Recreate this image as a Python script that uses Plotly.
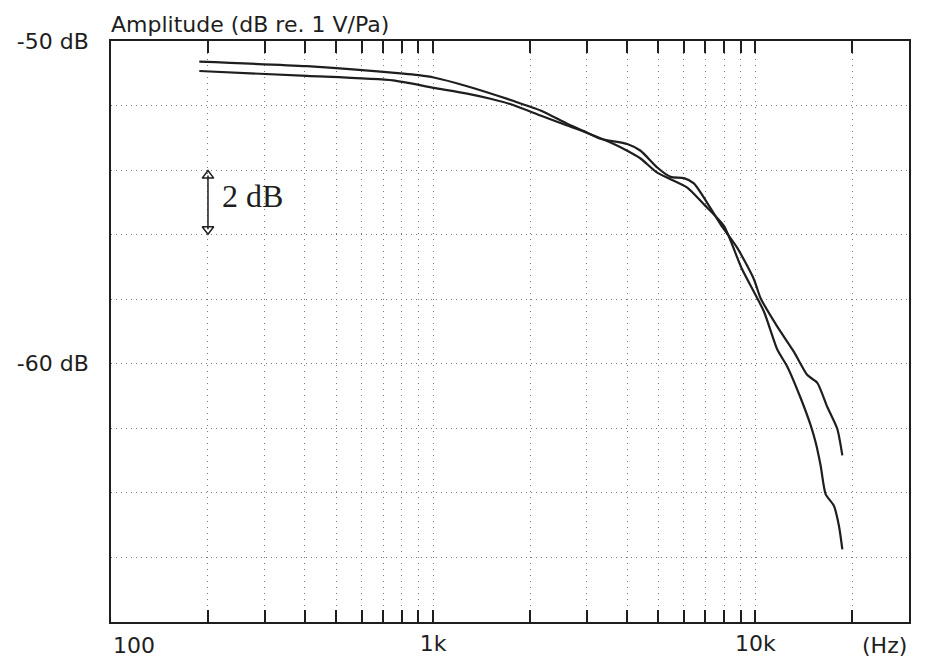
import math
import plotly.graph_objects as go

# ---- data ----
freq_a = [188, 406, 809, 902, 1004, 1275, 1780, 2154, 2607, 2936, 3308, 4004, 4404,
          4962, 5458, 6002, 6448, 6925, 7803, 8793, 9901, 10387, 11703, 13183,
          14506, 15578, 16733, 17973, 18631]
amp_a = [-50.64, -50.78, -51.01, -51.06, -51.13, -51.40, -51.86, -52.15, -52.56, -52.79,
         -53.03, -53.19, -53.40, -53.92, -54.21, -54.25, -54.41, -54.85, -55.68, -56.41,
         -57.38, -57.97, -58.85, -59.63, -60.35, -60.59, -61.34, -62.02, -62.84]

freq_b = [188, 406, 750, 1004, 1275, 1507, 1780, 2154, 2607, 3008, 3638, 4004,
          4404, 4962, 6149, 6925, 7990, 9069, 10634, 11703, 12571, 13826, 14849,
          15391, 15950, 16531, 17540, 18180, 18631]
amp_b = [-50.93, -51.08, -51.22, -51.45, -51.63, -51.79, -51.99, -52.31, -52.62,
         -52.85, -53.19, -53.40, -53.64, -54.08, -54.54, -55.06, -55.73, -57.04, -58.38,
         -59.56, -60.09, -61.06, -61.90, -62.43, -63.15, -64.04, -64.40, -65.02, -65.75]

x_gridvals = [200, 300, 400, 500, 600, 700, 800, 900, 1000,
              2000, 3000, 4000, 5000, 6000, 7000, 8000, 9000, 10000, 20000]
x_gridtext = ["", "", "", "", "", "", "", "", "1k",
              "", "", "", "", "", "", "", "", "10k", ""]
y_gridvals = [-50, -52, -54, -56, -58, -60, -62, -64, -66, -68]
y_gridtext = ["-50 dB", "", "", "", "", "-60 dB", "", "", "", ""]

x_min, x_max = 100, 30000
y_min, y_max = -68, -50

scale_freq = 200
scale_top, scale_bottom = -54, -56
scale_text = "2 dB"
title_text = "Amplitude (dB re. 1 V/Pa)"
unit_text = "(Hz)"
low_label = "100"

LINE = "#1e1e1e"
GRID = "#7a7a7a"
FONT = "DejaVu Sans"

fig = go.Figure()
for f, a in ((freq_a, amp_a), (freq_b, amp_b)):
    fig.add_trace(go.Scatter(x=f, y=a, mode="lines",
                             line=dict(color=LINE, width=2.2, shape="spline", smoothing=0.6),
                             hoverinfo="skip", showlegend=False))

# 2 dB scale arrow
fig.add_trace(go.Scatter(x=[scale_freq, scale_freq], y=[scale_top - 0.17, scale_bottom + 0.17],
                         mode="lines+markers",
                         line=dict(color=LINE, width=1.5),
                         marker=dict(symbol=["triangle-up-open", "triangle-down-open"],
                                     size=10, color=LINE, line=dict(width=1.5, color=LINE)),
                         hoverinfo="skip", showlegend=False))

fig.add_annotation(x=math.log10(scale_freq), y=(scale_top + scale_bottom) / 2,
                   xref="x", yref="y", text=scale_text, showarrow=False,
                   xanchor="left", yanchor="middle", xshift=12, yshift=6,
                   font=dict(family="Liberation Serif", size=32, color=LINE))

fig.add_annotation(x=math.log10(x_min), y=0, xref="x", yref="paper", text=low_label,
                   showarrow=False, xanchor="center", yanchor="top", xshift=23, yshift=-9,
                   font=dict(family=FONT, size=22, color=LINE))
fig.add_annotation(x=1, y=0, xref="paper", yref="paper", text=unit_text,
                   showarrow=False, xanchor="right", yanchor="top", xshift=0, yshift=-9,
                   font=dict(family=FONT, size=22, color=LINE))

fig.update_layout(
    width=932, height=658,
    margin=dict(l=111, r=23, t=41, b=36),
    paper_bgcolor="white", plot_bgcolor="white",
    font=dict(family=FONT, size=22, color=LINE),
    title=dict(text=title_text, x=0, xref="paper", xanchor="left",
               y=1 - 24 / 658, yref="container", yanchor="middle",
               font=dict(family=FONT, size=22, color=LINE), automargin=False),
    xaxis=dict(type="log", range=[math.log10(x_min), math.log10(x_max)],
               tickmode="array", tickvals=x_gridvals, ticktext=x_gridtext,
               ticks="inside", ticklen=12, tickwidth=1.5, tickcolor=LINE,
               showline=True, linecolor=LINE, linewidth=1.5, mirror="ticks",
               showgrid=True, gridcolor=GRID, griddash="1px,5px", gridwidth=1,
               zeroline=False, ticklabelstandoff=1, automargin=False),
    yaxis=dict(range=[y_min, y_max], tickmode="array", tickvals=y_gridvals,
               ticktext=y_gridtext, ticks="",
               showline=True, linecolor=LINE, linewidth=1.5, mirror=True,
               showgrid=True, gridcolor=GRID, griddash="1px,4px", gridwidth=1,
               zeroline=False, ticklabelstandoff=16, automargin=False),
)

fig.write_html("out.html")
